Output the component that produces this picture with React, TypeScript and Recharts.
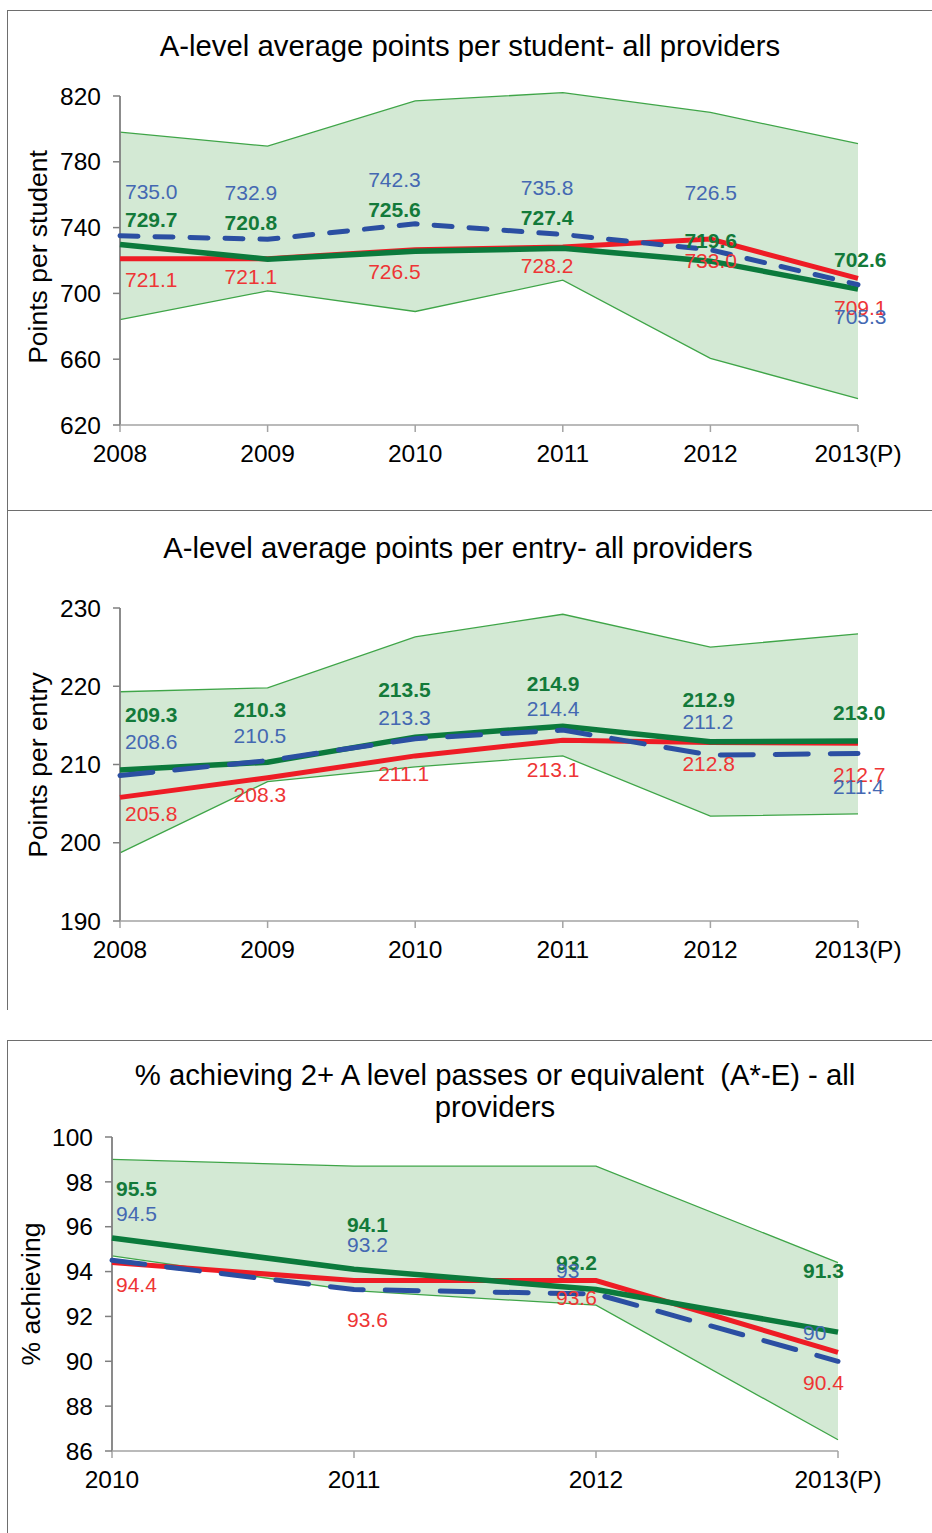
import React from 'react';
import { ComposedChart, Area, Line, XAxis, YAxis, LabelList, ReferenceLine } from 'recharts';

// ---------- Data ----------
const years1 = ['2008', '2009', '2010', '2011', '2012', '2013(P)'];
const stuGreen = [729.7, 720.8, 725.6, 727.4, 719.6, 702.6];
const stuBlue = [735.0, 732.9, 742.3, 735.8, 726.5, 705.3];
const stuRed = [721.1, 721.1, 726.5, 728.2, 733.0, 709.1];
const stuLow = [684, 701.5, 689, 708, 660.5, 636];
const stuHigh = [798, 789.5, 817, 822, 810, 791];
const stuTicks = [620, 660, 700, 740, 780, 820];

const entGreen = [209.3, 210.3, 213.5, 214.9, 212.9, 213.0];
const entBlue = [208.6, 210.5, 213.3, 214.4, 211.2, 211.4];
const entRed = [205.8, 208.3, 211.1, 213.1, 212.8, 212.7];
const entLow = [198.7, 207.8, 209.7, 211.1, 203.4, 203.7];
const entHigh = [219.3, 219.8, 226.3, 229.2, 225.0, 226.7];
const entTicks = [190, 200, 210, 220, 230];

const years3 = ['2010', '2011', '2012', '2013(P)'];
const pctGreen = [95.5, 94.1, 93.2, 91.3];
const pctBlue = [94.5, 93.2, 93, 90];
const pctRed = [94.4, 93.6, 93.6, 90.4];
const pctLow = [94.7, 93.15, 92.5, 86.5];
const pctHigh = [99.0, 98.7, 98.7, 94.4];
const pctTicks = [86, 88, 90, 92, 94, 96, 98, 100];

// ---------- Label placement (styling, not data) ----------
const lab1 = {
  dx: [5, -43, -47, -42, -26, -24],
  green: [-25, -37, -42, -31, -21, -30],
  blue: [-44, -47, -44, -47, -57, 32],
  red: [21, 18, 22, 18, 21, 29],
};
const lab2 = {
  dx: [5, -34, -37, -36, -28, -25],
  green: [-55, -53, -48, -43, -42, -29],
  blue: [-34, -25, -21, -22, -34, 33],
  red: [16, 17, 18, 29, 21, 31],
};
const lab3 = {
  dx: [4, -7, -40, -35],
  green: [-49, -45, -27, -62],
  blue: [-47, -45, -24, -29],
  red: [22, 39, 17, 30],
};

const FONT = '"Liberation Sans", Arial, sans-serif';
const C_BAND = '#d3e9d4';
const C_BAND_STROKE = '#3fa548';
const C_GREEN = '#0b7a3c';
const C_RED = '#ee1c25';
const C_BLUE = '#2b4fa2';
const L_GREEN = '#137a3a';
const L_BLUE = '#4468b2';
const L_RED = '#ee3535';

function buildRows(years: string[], g: number[], b: number[], r: number[], lo: number[], hi: number[]) {
  return years.map((y, i) => ({ year: y, green: g[i], blue: b[i], red: r[i], band: [lo[i], hi[i]] }));
}

const fmt1 = (v: number) => v.toFixed(1);
const fmtPlain = (v: number) => String(v);

function makeLabel(color: string, bold: boolean, dys: number[], dxs: number[], fmt: (v: number) => string) {
  return (props: any) => {
    const { index, value } = props;
    const x = props.x ?? props.viewBox?.x;
    const y = props.y ?? props.viewBox?.y;
    if (x == null || y == null || index == null) return null;
    return (
      <text
        x={x + dxs[index]}
        y={y + dys[index]}
        fill={color}
        fontSize={21}
        fontWeight={bold ? 'bold' : 'normal'}
        fontFamily={FONT}
        textAnchor="start"
        dominantBaseline="central"
      >
        {fmt(Number(value))}
      </text>
    );
  };
}

type PanelProps = {
  rows: any[];
  width: number;
  height: number;
  margin: { top: number; right: number; bottom: number; left: number };
  domain: [number, number];
  ticks: number[];
  lab: { dx: number[]; green: number[]; blue: number[]; red: number[] };
  dash: string;
  blueFmt: (v: number) => string;
};

function Panel({ rows, width, height, margin, domain, ticks, lab, dash, blueFmt }: PanelProps) {
  const tickStyle = { fontSize: 24.5, fill: '#000', fontFamily: FONT };
  const first = rows[0].year;
  return (
    <ComposedChart width={width} height={height} data={rows} margin={margin}>
      <XAxis
        dataKey="year"
        scale="point"
        padding={{ left: 0, right: 0 }}
        interval={0}
        height={40}
        tick={tickStyle}
        tickSize={7}
        tickMargin={13}
        axisLine={{ stroke: '#a3a3a3', strokeWidth: 1.5 }}
        tickLine={{ stroke: '#a3a3a3', strokeWidth: 1.5 }}
      />
      <YAxis
        type="number"
        domain={domain}
        ticks={ticks}
        interval={0}
        width={60}
        tick={tickStyle}
        tickSize={7}
        tickMargin={12}
        axisLine={false}
        tickLine={{ stroke: '#7f7f7f', strokeWidth: 1.5 }}
      />
      <Area
        dataKey="band"
        type="linear"
        fill={C_BAND}
        fillOpacity={1}
        stroke={C_BAND_STROKE}
        strokeWidth={1.3}
        isAnimationActive={false}
        activeDot={false}
        dot={false}
      />
      <ReferenceLine
        segment={[
          { x: first, y: ticks[0] },
          { x: first, y: ticks[ticks.length - 1] },
        ]}
        stroke="#7f7f7f"
        strokeWidth={1.8}
      />
      <Line dataKey="red" type="linear" stroke={C_RED} strokeWidth={5} dot={false} isAnimationActive={false}>
        <LabelList dataKey="red" content={makeLabel(L_RED, false, lab.red, lab.dx, fmt1)} />
      </Line>
      <Line dataKey="green" type="linear" stroke={C_GREEN} strokeWidth={5.5} dot={false} isAnimationActive={false}>
        <LabelList dataKey="green" content={makeLabel(L_GREEN, true, lab.green, lab.dx, fmt1)} />
      </Line>
      <Line
        dataKey="blue"
        type="linear"
        stroke={C_BLUE}
        strokeWidth={5}
        strokeDasharray={dash}
        strokeLinecap="round"
        dot={false}
        isAnimationActive={false}
      >
        <LabelList dataKey="blue" content={makeLabel(L_BLUE, false, lab.blue, lab.dx, blueFmt)} />
      </Line>
    </ComposedChart>
  );
}

const abs = (left: number, top: number, extra: React.CSSProperties = {}): React.CSSProperties => ({
  position: 'absolute',
  left,
  top,
  ...extra,
});

function Title({ text, cx, cy }: { text: string; cx: number; cy: number }) {
  return (
    <div
      style={abs(cx, cy, {
        transform: 'translate(-50%, -50%)',
        fontFamily: FONT,
        fontSize: 29.3,
        color: '#000',
        whiteSpace: 'pre',
        lineHeight: 1,
      })}
    >
      {text}
    </div>
  );
}

function AxisTitle({ text, cx, cy }: { text: string; cx: number; cy: number }) {
  return (
    <div
      style={abs(cx, cy, {
        transform: 'translate(-50%, -50%) rotate(-90deg)',
        fontFamily: FONT,
        fontSize: 26.5,
        color: '#000',
        whiteSpace: 'nowrap',
        lineHeight: 1,
      })}
    >
      {text}
    </div>
  );
}

export default function App() {
  const rows1 = buildRows(years1, stuGreen, stuBlue, stuRed, stuLow, stuHigh);
  const rows2 = buildRows(years1, entGreen, entBlue, entRed, entLow, entHigh);
  const rows3 = buildRows(years3, pctGreen, pctBlue, pctRed, pctLow, pctHigh);
  const line = '#6e6e6e';
  return (
    <div style={{ position: 'absolute', left: 0, top: 0, width: 932, height: 1533, background: '#fff', overflow: 'hidden' }}>
      {/* frames */}
      <div style={abs(7, 10, { width: 925, height: 0, borderTop: `1.5px solid ${line}` })} />
      <div style={abs(7, 10, { width: 0, height: 1000, borderLeft: `1.5px solid ${line}` })} />
      <div style={abs(7, 510, { width: 925, height: 0, borderTop: `1.5px solid ${line}` })} />
      <div style={abs(7, 1040, { width: 925, height: 0, borderTop: `1.5px solid ${line}` })} />
      <div style={abs(7, 1040, { width: 0, height: 493, borderLeft: `1.5px solid ${line}` })} />

      {/* Chart 1: plot spans 620..822 so the band's 822 peak stays visible above the 820 tick */}
      <div style={abs(0, 0)}>
        <Panel
          rows={rows1}
          width={932}
          height={510}
          margin={{ top: 92.7, right: 74, bottom: 45, left: 60 }}
          domain={[620, 822]}
          ticks={stuTicks}
          lab={lab1}
          dash="18 17"
          blueFmt={fmt1}
        />
      </div>
      <Title text="A-level average points per student- all providers" cx={470} cy={46} />
      <AxisTitle text="Points per student" cx={38} cy={257} />

      {/* Chart 2 */}
      <div style={abs(0, 510)}>
        <Panel
          rows={rows2}
          width={932}
          height={500}
          margin={{ top: 98, right: 74, bottom: 49, left: 60 }}
          domain={[190, 230]}
          ticks={entTicks}
          lab={lab2}
          dash="33 22"
          blueFmt={fmt1}
        />
      </div>
      <Title text="A-level average points per entry- all providers" cx={458} cy={548} />
      <AxisTitle text="Points per entry" cx={38} cy={765} />

      {/* Chart 3 */}
      <div style={abs(0, 1040)}>
        <Panel
          rows={rows3}
          width={932}
          height={493}
          margin={{ top: 97, right: 94, bottom: 42, left: 52 }}
          domain={[86, 100]}
          ticks={pctTicks}
          lab={lab3}
          dash="33 22"
          blueFmt={fmtPlain}
        />
      </div>
      <Title text="% achieving 2+ A level passes or equivalent  (A*-E) - all" cx={495} cy={1075} />
      <Title text="providers" cx={495} cy={1107} />
      <AxisTitle text="% achieving" cx={31} cy={1294} />
    </div>
  );
}
